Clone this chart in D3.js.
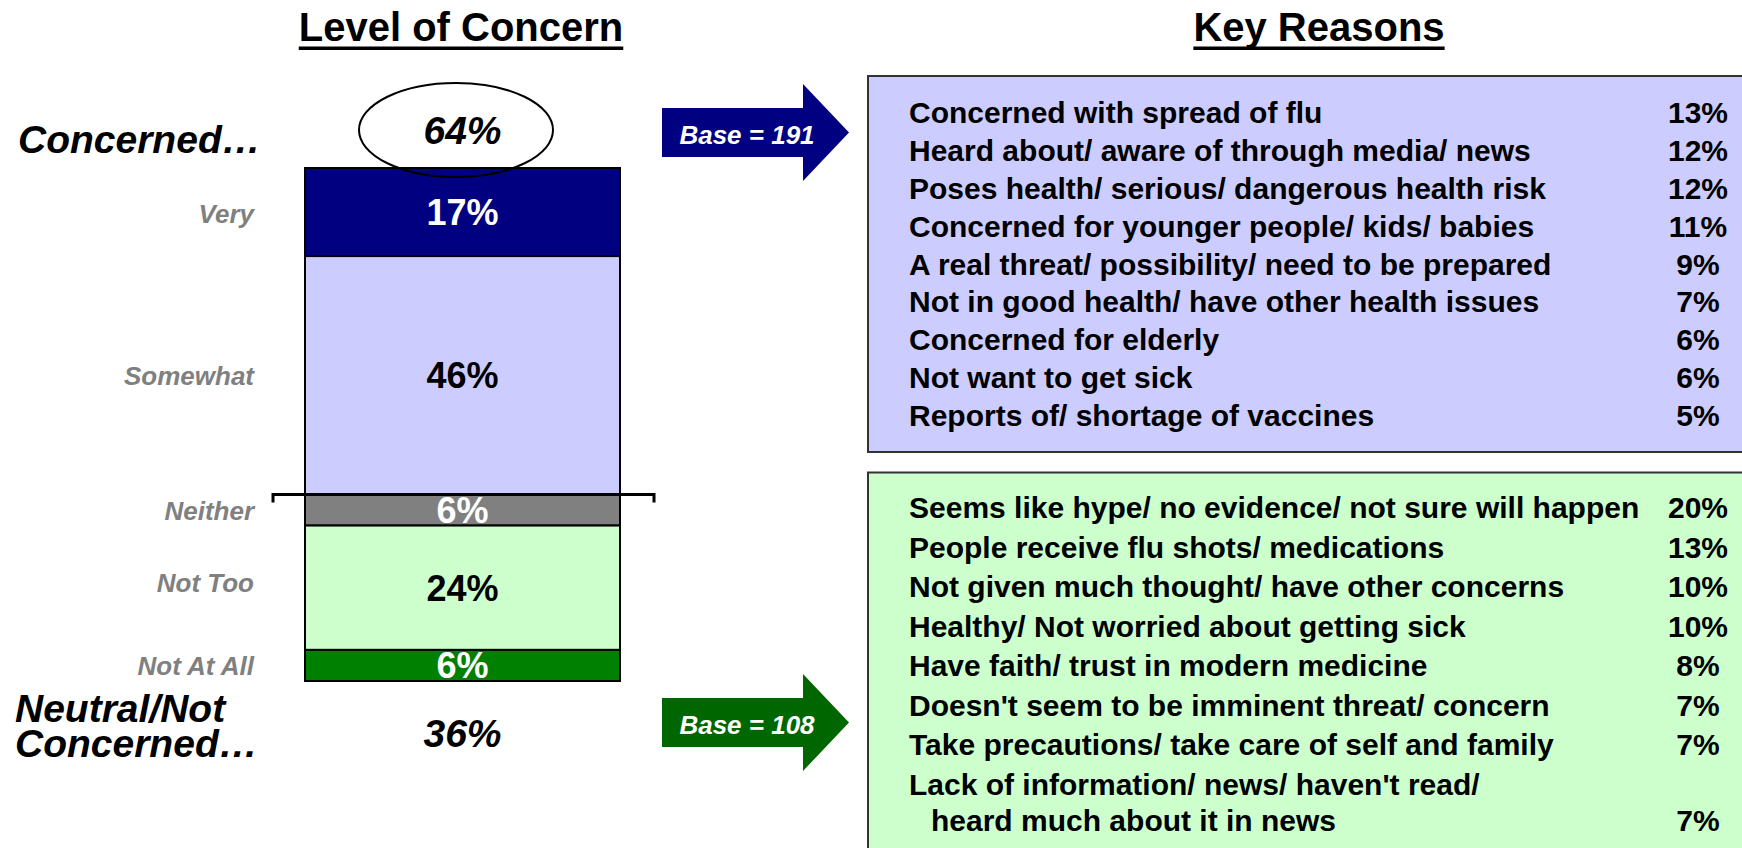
<!DOCTYPE html>
<html>
<head>
<meta charset="utf-8">
<script src="https://cdn.jsdelivr.net/npm/d3@7"></script>
<style>
  body { margin: 0; background: #fff; }
  text { font-family: "Liberation Sans", Arial, sans-serif; font-weight: bold; }
</style>
</head>
<body>
<div id="chart"></div>
<script>
document.addEventListener("DOMContentLoaded", function(event) {

    // level of concern
    var levels = ["Very", "Somewhat", "Neither", "Not Too", "Not At All"];
    var levelValues = [17, 46, 6, 24, 6];
    var summaryLabels = [["Concerned…"], ["Neutral/Not", "Concerned…"]];
    var summaryValues = [64, 36];
    var bases = [191, 108];

    // key reasons
    var concernedReasons = [
        "Concerned with spread of flu",
        "Heard about/ aware of through media/ news",
        "Poses health/ serious/ dangerous health risk",
        "Concerned for younger people/ kids/ babies",
        "A real threat/ possibility/ need to be prepared",
        "Not in good health/ have other health issues",
        "Concerned for elderly",
        "Not want to get sick",
        "Reports of/ shortage of vaccines"
    ];
    var concernedPcts = [13, 12, 12, 11, 9, 7, 6, 6, 5];

    var notConcernedReasons = [
        "Seems like hype/ no evidence/ not sure will happen",
        "People receive flu shots/ medications",
        "Not given much thought/ have other concerns",
        "Healthy/ Not worried about getting sick",
        "Have faith/ trust in modern medicine",
        "Doesn't seem to be imminent threat/ concern",
        "Take precautions/ take care of self and family",
        ["Lack of information/ news/ haven't read/", "heard much about it in news"]
    ];
    var notConcernedPcts = [20, 13, 10, 10, 8, 7, 7, 7];

    var width = 1742, height = 848;

    var svg = d3.select("#chart").append("svg")
        .attr("width", width)
        .attr("height", height);

    var fill = d3.scaleOrdinal().domain(levels)
        .range(["#000080", "#ccccff", "#808080", "#ccffcc", "#008000"]);
    var ink = d3.scaleOrdinal().domain(levels)
        .range(["#fff", "#000", "#fff", "#000", "#fff"]);
    // small vertical nudge of the side labels
    var nudge = d3.scaleOrdinal().domain(levels).range([11, 10, 10, 4, 10]);

    var barLeft = 305, barWidth = 315, barMid = barLeft + barWidth / 2;
    var y = d3.scaleLinear()
        .domain([0, d3.sum(levelValues)])
        .range([168, 681]);

    var ends = d3.cumsum(levelValues);
    var segs = levels.map(function(d, i) {
        return { name: d, value: levelValues[i], y0: ends[i] - levelValues[i], y1: ends[i] };
    });

    // titles with underline
    function title(text, cx) {
        var t = svg.append("text")
            .attr("x", cx).attr("y", 41)
            .attr("text-anchor", "middle")
            .style("font-size", "40px")
            .text(text);
        var w = t.node().getComputedTextLength();
        svg.append("rect")
            .attr("x", cx - w / 2).attr("y", 46.5)
            .attr("width", w).attr("height", 3.5)
            .attr("fill", "#000");
    }
    title("Level of Concern", 461);
    title("Key Reasons", 1319);

    // stacked bar
    svg.selectAll("rect.seg")
        .data(segs)
        .enter().append("rect")
        .attr("class", "seg")
        .attr("x", barLeft)
        .attr("y", function(d) { return y(d.y0); })
        .attr("width", barWidth)
        .attr("height", function(d) { return y(d.y1) - y(d.y0); })
        .attr("fill", function(d) { return fill(d.name); })
        .attr("stroke", "#000")
        .attr("stroke-width", 2);

    svg.selectAll("text.val")
        .data(segs)
        .enter().append("text")
        .attr("class", "val")
        .attr("x", barMid)
        .attr("y", function(d) { return (y(d.y0) + y(d.y1)) / 2 + 13; })
        .attr("text-anchor", "middle")
        .style("font-size", "36px")
        .attr("fill", function(d) { return ink(d.name); })
        .text(function(d) { return d.value + "%"; });

    svg.selectAll("text.cat")
        .data(segs)
        .enter().append("text")
        .attr("class", "cat")
        .attr("x", 254)
        .attr("y", function(d) { return (y(d.y0) + y(d.y1)) / 2 + nudge(d.name); })
        .attr("text-anchor", "end")
        .style("font-size", "26px")
        .style("font-style", "italic")
        .attr("fill", "#808080")
        .text(function(d) { return d.name; });

    // bracket between concerned and the rest
    var by = y(ends[1]);
    svg.append("path")
        .attr("d", "M273," + (by + 8) + "V" + by + "H654V" + (by + 8))
        .attr("fill", "none")
        .attr("stroke", "#000")
        .attr("stroke-width", 3);

    // summary labels and values
    var summaryY = [153, 722];
    var summaryValY = [144, 747];
    summaryLabels.forEach(function(lines, i) {
        var t = svg.append("text")
            .attr("x", i === 0 ? 18 : 15)
            .attr("y", summaryY[i])
            .style("font-size", "39px")
            .style("font-style", "italic");
        lines.forEach(function(l, j) {
            t.append("tspan")
                .attr("x", i === 0 ? 18 : 15)
                .attr("dy", j === 0 ? 0 : 35)
                .text(l);
        });
        svg.append("text")
            .attr("x", barMid)
            .attr("y", summaryValY[i])
            .attr("text-anchor", "middle")
            .style("font-size", "39px")
            .style("font-style", "italic")
            .text(summaryValues[i] + "%");
    });

    svg.append("ellipse")
        .attr("cx", 456).attr("cy", 130)
        .attr("rx", 97).attr("ry", 47)
        .attr("fill", "none")
        .attr("stroke", "#000")
        .attr("stroke-width", 2);

    // arrows
    var arrowColors = ["#000080", "#006600"];
    var arrowMid = [132.5, 722.5];
    bases.forEach(function(b, i) {
        var c = arrowMid[i];
        svg.append("path")
            .attr("d", "M662," + (c - 24.5) + "H803V" + (c - 48.5) + "L849," + c +
                "L803," + (c + 48.5) + "V" + (c + 24.5) + "H662Z")
            .attr("fill", arrowColors[i]);
        svg.append("text")
            .attr("x", 747).attr("y", c + 11.5)
            .attr("text-anchor", "middle")
            .style("font-size", "26px")
            .style("font-style", "italic")
            .attr("fill", "#fff")
            .text("Base = " + b);
    });

    // reason boxes
    svg.append("rect")
        .attr("x", 868).attr("y", 76)
        .attr("width", 920).attr("height", 376)
        .attr("fill", "#ccccff")
        .attr("stroke", "#333").attr("stroke-width", 2);
    svg.append("rect")
        .attr("x", 868).attr("y", 472.5)
        .attr("width", 920).attr("height", 420)
        .attr("fill", "#ccffcc")
        .attr("stroke", "#333").attr("stroke-width", 2);

    var r1 = d3.scaleLinear().domain([0, concernedReasons.length - 1]).range([123, 426]);
    var r2 = d3.scaleLinear().domain([0, notConcernedReasons.length - 1]).range([518, 795]);

    function reasons(list, pcts, ry) {
        list.forEach(function(d, i) {
            var lines = Array.isArray(d) ? d : [d];
            var t = svg.append("text")
                .attr("y", ry(i))
                .style("font-size", "30px");
            lines.forEach(function(l, j) {
                t.append("tspan")
                    .attr("x", j === 0 ? 909 : 931)
                    .attr("dy", j === 0 ? 0 : 36)
                    .text(l);
            });
            svg.append("text")
                .attr("x", 1698)
                .attr("y", ry(i) + (lines.length - 1) * 36)
                .attr("text-anchor", "middle")
                .style("font-size", "30px")
                .text(pcts[i] + "%");
        });
    }
    reasons(concernedReasons, concernedPcts, r1);
    reasons(notConcernedReasons, notConcernedPcts, r2);

})
</script>
</body>
</html>
